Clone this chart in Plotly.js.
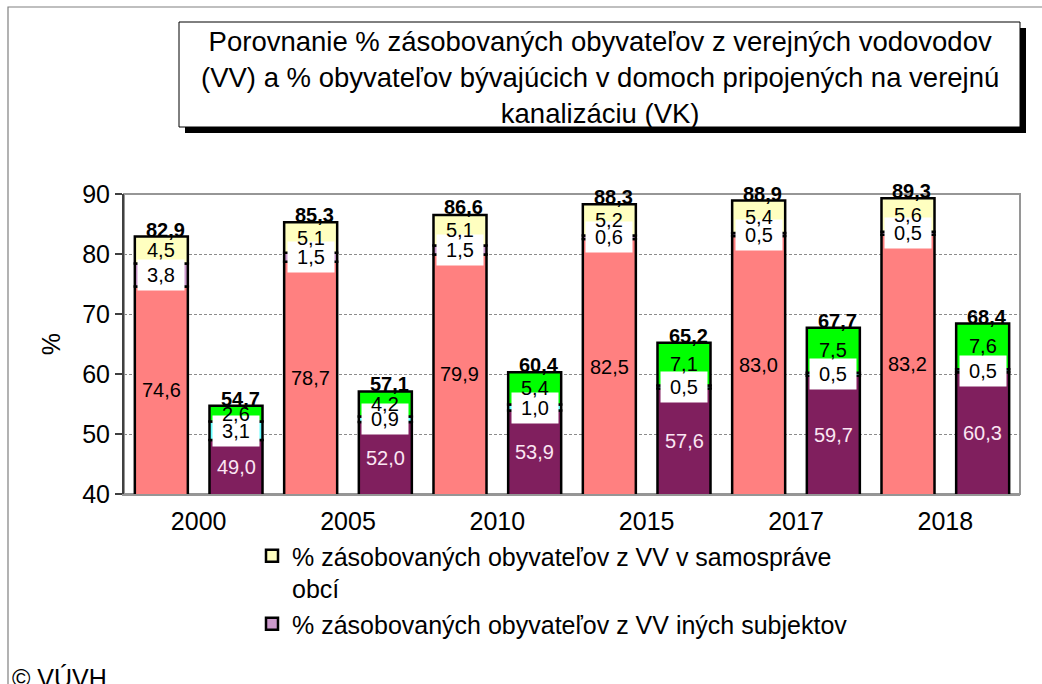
<!DOCTYPE html>
<html>
<head>
<meta charset="utf-8">
<script src="https://cdn.plot.ly/plotly-3.0.1.min.js"></script>
<style>html,body{margin:0;padding:0;background:#fff;}#chart{width:1042px;height:684px;}</style>
</head>
<body>
<div id="chart"></div>
<script>
// ---- data ----
var years = ['2000','2005','2010','2015','2017','2018'];
// VV (verejné vodovody)
var vvBase  = [74.6, 78.7, 79.9, 82.5, 83.0, 83.2];
var vvIne   = [3.8, 1.5, 1.5, 0.6, 0.5, 0.5];   // % z VV iných subjektov
var vvObce  = [4.5, 5.1, 5.1, 5.2, 5.4, 5.6];   // % z VV v samospráve obcí
var vvTotal = [82.9, 85.3, 86.6, 88.3, 88.9, 89.3];
// VK (verejná kanalizácia)
var vkBase  = [49.0, 52.0, 53.9, 57.6, 59.7, 60.3];
var vkMid   = [3.1, 0.9, 1.0, 0.5, 0.5, 0.5];
var vkTop   = [2.6, 4.2, 5.4, 7.1, 7.5, 7.6];
var vkTotal = [54.7, 57.1, 60.4, 65.2, 67.7, 68.4];

var nameObce = '% zásobovaných obyvateľov z VV v samospráve<br>obcí';
var nameIne  = '% zásobovaných obyvateľov z VV iných subjektov';
var titleText = 'Porovnanie % zásobovaných obyvateľov z verejných vodovodov<br>(VV) a % obyvateľov bývajúcich v domoch pripojených na verejnú<br>kanalizáciu (VK)';

// ---- layout constants ----
var W = 1042, H = 684;
var M = {l:124, r:22, t:194, b:190};
var plotW = W - M.l - M.r, plotH = H - M.t - M.b;
var half = plotW / years.length / 4;   // offset from category centre to bar centre
var FONT = 'Liberation Sans, Arial, sans-serif';
var YMIN = 40, YMAX = 90;

function fmt(v){ return v.toFixed(1).replace('.', ','); }
function add(a,b){ return a.map(function(v,i){ return v + b[i]; }); }
function px2py(p){ return (H - M.b - p) / plotH; }
function px2px(p){ return (p - M.l) / plotW; }

var LINE = {color:'#000', width:2.5};
var zeros = years.map(function(){ return 0; });

var traces = [
  {type:'bar', x:years, y:vvBase, base:zeros, offsetgroup:'vv', marker:{color:'#ff8080', line:LINE}, showlegend:false},
  {type:'bar', x:years, y:vvIne, base:vvBase, offsetgroup:'vv', name:nameIne, legendgroup:'b', legendrank:2, marker:{color:'#cc99cc', line:LINE}, showlegend:true},
  {type:'bar', x:years, y:vvObce, base:add(vvBase,vvIne), offsetgroup:'vv', name:nameObce, legendgroup:'a', legendrank:1, marker:{color:'#ffffc0', line:LINE}, showlegend:true},
  {type:'bar', x:years, y:vkBase, base:zeros, offsetgroup:'vk', marker:{color:'#801f5e', line:LINE}, showlegend:false},
  {type:'bar', x:years, y:vkMid, base:vkBase, offsetgroup:'vk', marker:{color:'#66ffff', line:LINE}, showlegend:false},
  {type:'bar', x:years, y:vkTop, base:add(vkBase,vkMid), offsetgroup:'vk', marker:{color:'#00ff00', line:LINE}, showlegend:false}
];

var annotations = [];
function labels(vals, lo, hi, shift, opts){
  vals.forEach(function(v,i){
    var a0 = Math.max(lo[i], YMIN), b0 = hi[i];
    var a = {xref:'x', yref:'y', x:i, y:(a0+b0)/2, xshift:shift, text:fmt(v), showarrow:false,
             font:{family:FONT, size:20, color:opts.color||'#000'}};
    if (opts.bg){ a.bgcolor = '#fff'; a.width = 44; a.height = 28; }
    annotations.push(a);
  });
}
function totals(vals, shift){
  vals.forEach(function(v,i){
    annotations.push({xref:'x', yref:'y', x:i, y:v, xshift:shift+4, yshift:-6, yanchor:'bottom', text:'<b>'+fmt(v)+'</b>', showarrow:false,
      font:{family:FONT, size:20, color:'#000'}});
  });
}
labels(vvBase, zeros, vvBase, -half, {});
labels(vkBase, zeros, vkBase, half, {color:'#fbe6f3'});
labels(vvIne, vvBase, add(vvBase,vvIne), -half, {bg:true});
labels(vkMid, vkBase, add(vkBase,vkMid), half, {bg:true});
labels(vvObce, add(vvBase,vvIne), add(add(vvBase,vvIne),vvObce), -half, {});
labels(vkTop, add(vkBase,vkMid), add(add(vkBase,vkMid),vkTop), half, {});
totals(vvTotal, -half);
totals(vkTotal, half);

annotations.push({xref:'paper', yref:'paper', x:px2px(600), y:px2py(77), xanchor:'center', yanchor:'middle',
  text:titleText, showarrow:false, font:{family:FONT, size:27.5, color:'#000'}});
annotations.push({xref:'paper', yref:'paper', x:px2px(10), y:px2py(662), xanchor:'left', yanchor:'top',
  text:'© VÚVH', showarrow:false, font:{family:FONT, size:25, color:'#000'}});

var shapes = [
  {type:'rect', xref:'paper', yref:'paper', x0:px2px(8), x1:px2px(1060), y0:px2py(7), y1:px2py(710), line:{color:'#808080', width:1.2}, fillcolor:'rgba(0,0,0,0)', layer:'below'},
  {type:'rect', xref:'paper', yref:'paper', x0:0, x1:1, y0:0, y1:1, line:{color:'#969696', width:2}, fillcolor:'rgba(0,0,0,0)', layer:'below'},
  {type:'rect', xref:'paper', yref:'paper', x0:px2px(185), x1:px2px(1026), y0:px2py(28), y1:px2py(133), line:{width:0}, fillcolor:'#000'},
  {type:'rect', xref:'paper', yref:'paper', x0:px2px(179), x1:px2px(1020), y0:px2py(22), y1:px2py(127), line:{color:'#000', width:1}, fillcolor:'#fff'}
];

var layout = {
  width:W, height:H, margin:M,
  paper_bgcolor:'#fff', plot_bgcolor:'#fff',
  font:{family:FONT, color:'#000'},
  barmode:'group', bargap:0, bargroupgap:0.29,
  xaxis:{type:'category', range:[-0.5, years.length-0.5], showgrid:false, showline:true, linecolor:'#969696', linewidth:2, ticks:'',
         tickfont:{family:FONT, size:25}, fixedrange:true, ticklabelstandoff:4},
  yaxis:{range:[YMIN,YMAX], dtick:10, showgrid:true, gridcolor:'#8c8c8c', griddash:'3px,2px', gridwidth:1, showline:true, linecolor:'#404040', linewidth:2,
         ticks:'outside', ticklen:7, tickcolor:'#404040', tickwidth:1.5, tickfont:{family:FONT, size:25}, zeroline:false,
         title:{text:'%', font:{family:FONT, size:25}, standoff:14}},
  legend:{x:px2px(252), y:px2py(533), xanchor:'left', yanchor:'top', font:{family:FONT, size:25}, valign:'top',
          tracegroupgap:6, itemwidth:30, bgcolor:'rgba(0,0,0,0)', traceorder:'normal'},
  shapes:shapes, annotations:annotations, showlegend:true
};

Plotly.newPlot('chart', traces, layout, {displayModeBar:false, staticPlot:true});
</script>
</body>
</html>
